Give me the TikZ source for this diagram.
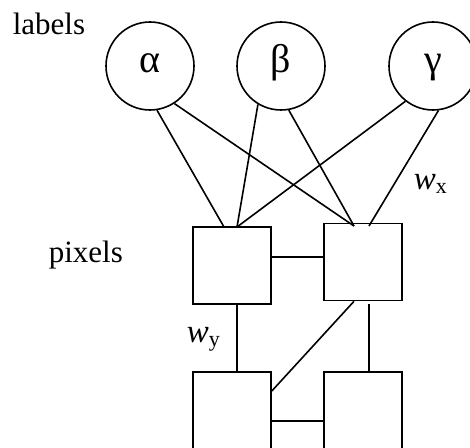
\documentclass[tikz,border=0pt]{standalone}
\usepackage{fontspec}
\setmainfont{Liberation Serif}
\begin{document}
\begin{tikzpicture}[x=0.5pt,y=-0.5pt,line width=0.8pt,
  unit/.style={circle,draw,minimum size=44pt,inner sep=0pt,
    font=\fontsize{20}{20}\selectfont,text height=10pt,text depth=3pt},
  pixel/.style={draw,minimum width=39pt,minimum height=38.5pt,inner sep=0pt},
  caption/.style={anchor=base west,inner sep=0pt,font=\fontsize{15.5}{16}\selectfont},
  weight/.style={anchor=base west,inner sep=0pt,font=\fontsize{16.5}{17}\selectfont}]
\useasboundingbox (0,0) rectangle (470,448);

% label units
\node[unit] (alpha) at (150,66) {α};
\node[unit] (beta)  at (281,66) {β};
\node[unit] (gamma) at (433,66) {γ};

% pixel units
\node[pixel] (p1) at (232,265.5) {};
\node[pixel] (p2) at (363,262) {};
\node[pixel] (p3) at (232,410.5) {};
\node[pixel] (p4) at (363,410.5) {};

% attachment points on the pixels
\coordinate (p1a) at (224,227);
\coordinate (p1b) at (237,227);
\coordinate (p2a) at (354,226);
\coordinate (p2b) at (369,226);
\coordinate (v2)  at (369,304);
\coordinate (h1)  at (0,257);
\coordinate (h2)  at (0,421);
\coordinate (d3)  at (0,391);

% label-to-pixel links
\draw (alpha.-81)    -- (p1a);
\draw (alpha.-57)    -- (p2a);
\draw (beta.-121)    -- (p1b);
\draw (beta.-80)     -- (p2a);
\draw (gamma.-128.5) -- (p1b);
\draw (gamma.-83.5)  -- (p2b);

% pixel-to-pixel links
\draw (p1.east |- h1) -- (p2.west |- h1);
\draw (p1.south -| p1b) -- (p3.north -| p1b);
\draw (v2) -- (p4.north -| v2);
\draw (p2.south -| p2a) -- (p3.east |- d3);
\draw (p3.east |- h2) -- (p4.west |- h2);

% captions
\node[caption] (lab) at (12,35) {labels};
\node[caption] (pix) at (48,263) {pixels};
\node[weight] (wx) at (413,190) {\textit{w}\raisebox{-2pt}{\fontsize{11}{11}\selectfont x}};
\node[weight] (wy) at (186,342) {\textit{w}\raisebox{-2pt}{\fontsize{11}{11}\selectfont y}};
\end{tikzpicture}
\end{document}
